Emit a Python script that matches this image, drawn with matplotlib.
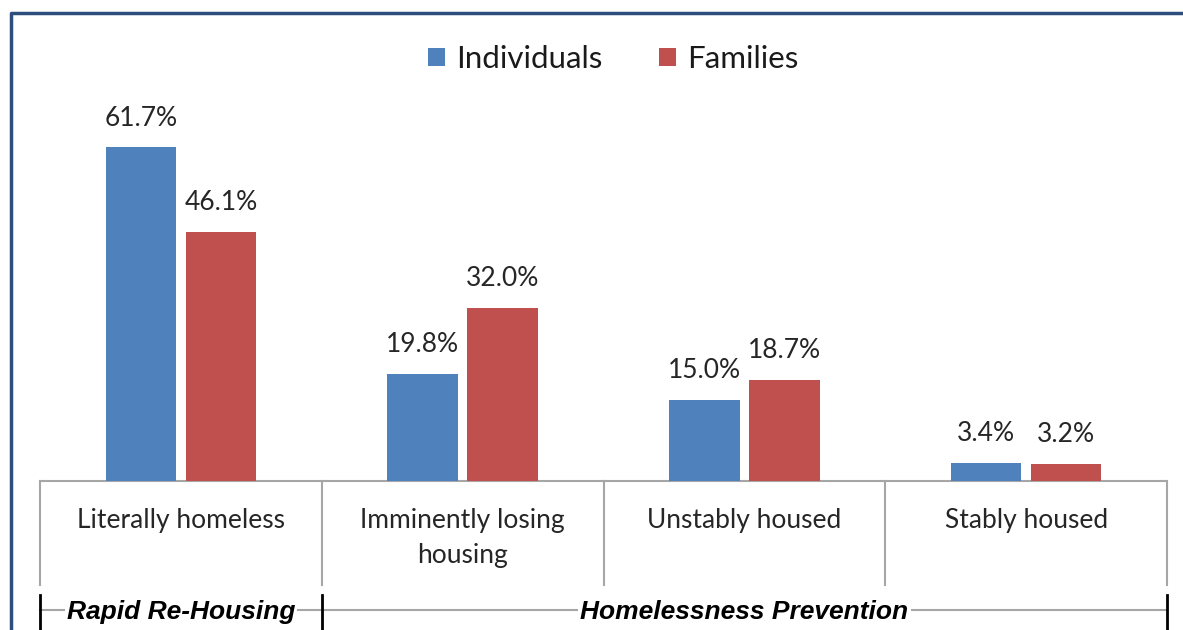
import matplotlib
matplotlib.use("Agg")
import matplotlib.pyplot as plt
import numpy as np

categorias = ["Literally homeless", "Imminently losing\nhousing",
              "Unstably housed", "Stably housed"]
individuos = [61.7, 19.8, 15.0, 3.4]
familias = [46.1, 32.0, 18.7, 3.2]
series = ["Individuals", "Families"]
programas = ["Rapid Re-Housing", "Homelessness Prevention"]
# que categorías cubre cada programa (índices de inicio y fin)
tramos = [(0, 0), (1, 3)]

azul, rojo = "#4F81BD", "#C0504D"
gris = "#A6A6A6"
fuente = "Lato"

W, H = 1183, 630
fig = plt.figure(figsize=(W / 100, H / 100), dpi=100)
base_px, top_px = 481, 13
ax = fig.add_axes([40 / W, (H - base_px) / H, 1127 / W, (base_px - top_px) / H])
alto_ax = base_px - top_px


def yax(ypx):
    # fila en píxeles (desde arriba) -> fracción del eje
    return (base_px - ypx) / alto_ax


x = np.arange(len(categorias))
ancho, off = 0.25, 0.142
b1 = ax.bar(x - off, individuos, ancho, color=azul, label=series[0], zorder=3)
b2 = ax.bar(x + off, familias, ancho, color=rojo, label=series[1], zorder=3)
ax.set_xlim(-0.5, len(categorias) - 0.5)
ax.set_ylim(0, alto_ax / 5.41)

for barras, vals in ((b1, individuos), (b2, familias)):
    for b, v in zip(barras, vals):
        ax.annotate(f"{v:.1f}%", (b.get_x() + b.get_width() / 2, v),
                    xytext=(0, 12), textcoords="offset points",
                    ha="center", va="bottom", fontsize=19, family=fuente,
                    color="#262626")

for s in ax.spines.values():
    s.set_visible(False)
ax.set_xticks([])
ax.set_yticks([])

tr = ax.get_xaxis_transform()
ax.plot([-0.5, len(categorias) - 0.5], [0, 0], color=gris, lw=1.5,
        transform=tr, clip_on=False)
for xb in np.arange(len(categorias) + 1) - 0.5:
    ax.plot([xb, xb], [0, yax(585)], color=gris, lw=1.5, transform=tr,
            clip_on=False)
for xi, c in zip(x, categorias):
    ax.text(xi, yax(508), c, ha="center", va="top", fontsize=19,
            family=fuente, color="#262626", linespacing=1.5, transform=tr)

# corchetes de programas
ax.plot([-0.5, len(categorias) - 0.5], [yax(610)] * 2, color=gris, lw=1.5,
        transform=tr, clip_on=False, zorder=1)
bordes = sorted({t[0] - 0.5 for t in tramos} | {t[1] + 0.5 for t in tramos})
for xb in bordes:
    ax.plot([xb, xb], [yax(595), yax(640)], color="black", lw=2,
            transform=tr, clip_on=False)
for (i0, i1), p in zip(tramos, programas):
    ax.text((i0 + i1) / 2, yax(612), p, ha="center", va="center",
            fontsize=19, family="Liberation Sans", weight="bold",
            style="italic", transform=tr, zorder=5,
            bbox=dict(facecolor="white", edgecolor="none", pad=1.5))

leg = fig.legend(handles=[b1, b2], loc="center", ncol=2,
                 bbox_to_anchor=(613 / W, 1 - 59 / H), frameon=False,
                 prop=dict(family=fuente, size=22.5), handlelength=0.55,
                 handleheight=0.55, handletextpad=0.35, columnspacing=1.8)
for t in leg.get_texts():
    t.set_color("#1a1a1a")

# marco azul oscuro (arriba e izquierda)
fig.add_artist(plt.Line2D([11 / W, 11 / W, 1.0], [0, 1 - 13 / H, 1 - 13 / H],
                          color="#2E4E7E", lw=2.5, transform=fig.transFigure))

fig.savefig("out.png", dpi=100)
